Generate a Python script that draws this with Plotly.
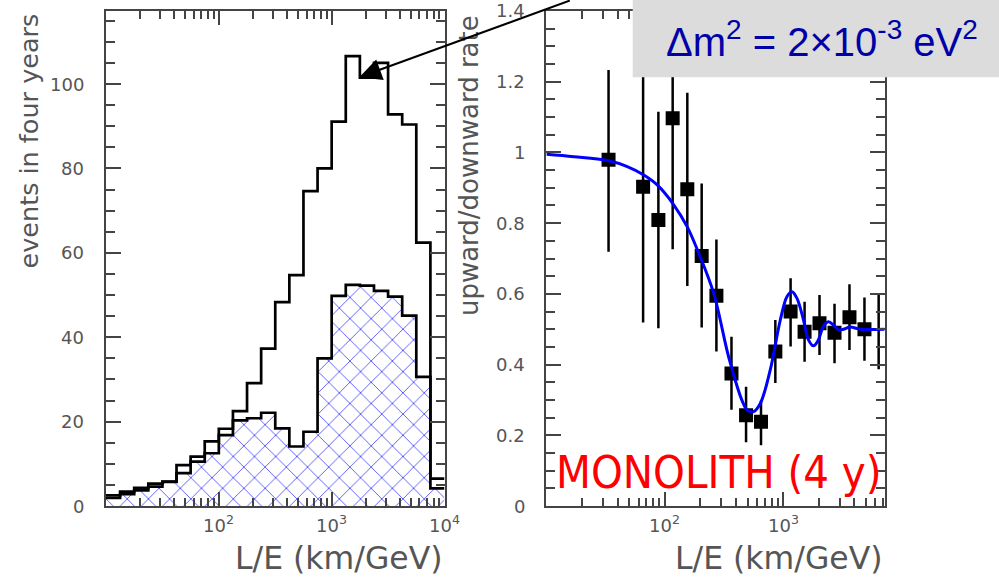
import numpy as np
import plotly.graph_objects as go

# ---------------- data ----------------
# left panel: L/E histograms, 8 bins per decade from 10 to 10^4 km/GeV
bin_edges = np.logspace(1, 4, 25)
all_events = [2.5, 3.4, 4.3, 5.3, 5.8, 9.7, 11.7, 15.3, 18.3, 22.5, 29.1, 37.3,
              48.3, 54.7, 74.6, 80.0, 91.1, 106.6, 101.5, 105.0, 92.8, 90.4, 62.4, 6.5]
osc_events = [1.9, 2.8, 3.7, 4.6, 5.7, 7.8, 10.5, 12.5, 16.8, 20.3, 20.8, 22.1,
              18.4, 14.1, 17.6, 35.0, 49.8, 52.4, 52.2, 51.0, 49.6, 45.1, 30.6, 4.2]

# right panel: up/down ratio with errors
ratio_x = [33.5, 65.6, 88.3, 116.6, 155, 205, 273, 366, 486, 650, 859, 1156,
           1517, 2028, 2716, 3633, 4863, 6410]
ratio_y = [0.979, 0.903, 0.809, 1.097, 0.896, 0.707, 0.595, 0.375, 0.257, 0.238,
           0.437, 0.55, 0.493, 0.517, 0.49, 0.534, 0.5, 0.49]
err_up = [0.254, 0.384, 0.306, 0.371, 0.273, 0.205, 0.159, 0.104, 0.08, 0.06,
          0.089, 0.094, 0.085, 0.08, 0.082, 0.093, 0.09, 0.11]
err_dn = [0.26, 0.384, 0.306, 0.371, 0.274, 0.202, 0.158, 0.103, 0.077, 0.066,
          0.089, 0.099, 0.085, 0.09, 0.086, 0.093, 0.089, 0.103]
marker_sizes = [14] * 17 + [0]

# expected ratio curve for dm^2 = 2e-3 eV^2
curve_x = [10, 17.1, 32.7, 48.2, 66.5, 86.3, 119, 154.5, 193.6, 258.8, 358, 495.5,
           562, 641, 778, 946, 1076, 1186, 1306, 1486, 1637, 1803, 1986, 2193,
           2415, 2661, 2931, 3228, 3681, 4467, 7200]
curve_y = [0.995, 0.988, 0.977, 0.96, 0.936, 0.908, 0.852, 0.79, 0.715, 0.602, 0.404, 0.272,
           0.267, 0.29, 0.385, 0.526, 0.592, 0.606, 0.588, 0.526, 0.47, 0.453, 0.47, 0.509,
           0.521, 0.512, 0.498, 0.5, 0.506, 0.5, 0.5]

left_yticks = [0, 20, 40, 60, 80, 100]
right_yticks = [0, 0.2, 0.4, 0.6, 0.8, 1, 1.2, 1.4]
left_xticks = [100, 1000, 10000]
left_xticktext = ["10<sup>2</sup>", "10<sup>3</sup>", "10<sup>4</sup>"]
right_xticks = [100, 1000]
right_xticktext = ["10<sup>2</sup>", "10<sup>3</sup>"]

# ---------------- figure ----------------
W, H = 999, 580
def px_x(p):
    return p / W
def px_y(p):
    return 1 - p / H

fig = go.Figure()

step_x = list(bin_edges)
fig.add_trace(go.Scatter(
    x=step_x, y=osc_events + [osc_events[-1]], mode="lines", line_shape="hv",
    line=dict(color="black", width=2.7), fill="tozeroy", fillcolor="rgba(0,0,0,0)",
    fillpattern=dict(shape="x", fgcolor="#0000ff", fgopacity=1, bgcolor="white",
                     size=15, solidity=0.08),
    xaxis="x", yaxis="y", hoverinfo="skip"))
fig.add_trace(go.Scatter(
    x=step_x, y=all_events + [all_events[-1]], mode="lines", line_shape="hv",
    line=dict(color="black", width=2.7), xaxis="x", yaxis="y", hoverinfo="skip"))

fig.add_trace(go.Scatter(
    x=ratio_x, y=ratio_y, mode="markers",
    marker=dict(symbol="square", size=marker_sizes, color="black", opacity=1,
                line=dict(width=0)),
    error_y=dict(type="data", array=err_up, arrayminus=err_dn, symmetric=False,
                 color="black", thickness=2.5, width=0),
    xaxis="x2", yaxis="y2"))
fig.add_trace(go.Scatter(
    x=curve_x, y=curve_y, mode="lines", line_shape="spline",
    line=dict(color="#0000ff", width=3, smoothing=1.0), xaxis="x2", yaxis="y2"))

tickfont = dict(family="DejaVu Sans", size=18, color="#555")
common = dict(showline=True, linecolor="#444", linewidth=1.5, mirror="allticks",
              ticks="inside", tickcolor="#444", tickwidth=1.5, showgrid=False,
              zeroline=False, showticklabels=False, automargin=False)

minor_log = [k * 10 ** d for d in range(1, 4) for k in range(2, 10)]

fig.update_layout(
    width=W, height=H, margin=dict(l=0, r=0, t=0, b=0, pad=0, autoexpand=False),
    paper_bgcolor="white", plot_bgcolor="white", showlegend=False,
    xaxis=dict(common, domain=[px_x(106), px_x(444.5)], type="log", range=[1, 4],
               tickmode="array", tickvals=left_xticks, ticklen=14, anchor="y",
               minor=dict(tickmode="array", tickvals=minor_log, ticks="inside",
                          ticklen=8, tickcolor="#444", tickwidth=1.5)),
    yaxis=dict(common, domain=[px_y(506), px_y(11)], range=[0, 117.3],
               tickmode="array", tickvals=left_yticks, ticklen=15, anchor="x",
               minor=dict(dtick=5, tick0=0, ticks="inside", ticklen=9,
                          tickcolor="#444", tickwidth=1.5)),
    xaxis2=dict(common, domain=[px_x(546.4), px_x(884.6)], type="log",
                range=[1, 3.857], tickmode="array", tickvals=right_xticks,
                ticklen=14, anchor="y2",
                minor=dict(tickmode="array", tickvals=minor_log, ticks="inside",
                           ticklen=8, tickcolor="#444", tickwidth=1.5)),
    yaxis2=dict(common, domain=[px_y(506), px_y(11)], range=[0, 1.4],
                tickmode="array", tickvals=right_yticks, ticklen=15, anchor="x2",
                minor=dict(dtick=0.05, tick0=0, ticks="inside", ticklen=9,
                           tickcolor="#444", tickwidth=1.5)),
)

# tick labels placed as annotations (fixed gap from the frame)
for v in left_yticks:
    fig.add_annotation(text=f"{v:g}", xref="paper", yref="y", x=px_x(86), y=v,
                       xanchor="right", yanchor="middle", showarrow=False, font=tickfont)
for v in right_yticks:
    fig.add_annotation(text=f"{v:g}", xref="paper", yref="y2", x=px_x(527), y=v,
                       xanchor="right", yanchor="middle", showarrow=False, font=tickfont)
for v, t in zip(left_xticks, left_xticktext):
    fig.add_annotation(text=t, xref="x", yref="paper", x=np.log10(v), y=px_y(510),
                       xanchor="center", yanchor="top", showarrow=False, font=tickfont)
for v, t in zip(right_xticks, right_xticktext):
    fig.add_annotation(text=t, xref="x2", yref="paper", x=np.log10(v), y=px_y(510),
                       xanchor="center", yanchor="top", showarrow=False, font=tickfont)

title_font = dict(family="DejaVu Sans", size=26, color="#555")
fig.add_annotation(text="events in four years", textangle=-90, xref="paper", yref="paper",
                   x=px_x(28), y=px_y(12), xanchor="center", yanchor="top",
                   showarrow=False, font=dict(title_font, size=25.5))
fig.add_annotation(text="upward/downward rate", textangle=-90, xref="paper", yref="paper",
                   x=px_x(468.6), y=px_y(13), xanchor="center", yanchor="top",
                   showarrow=False, font=title_font)
fig.add_annotation(text="L/E (km/GeV)", xref="paper", yref="paper",
                   x=px_x(445), y=px_y(558), xanchor="right", yanchor="middle",
                   showarrow=False, font=dict(title_font, size=31.5))
fig.add_annotation(text="L/E (km/GeV)", xref="paper", yref="paper",
                   x=px_x(885), y=px_y(558), xanchor="right", yanchor="middle",
                   showarrow=False, font=dict(title_font, size=31.5))

# grey box with dm^2
fig.add_shape(type="rect", xref="paper", yref="paper", x0=px_x(632.7), x1=1,
              y0=px_y(77.3), y1=1, fillcolor="#dcdcdc", line=dict(width=0),
              layer="above")
fig.add_annotation(text="\u0394m<sup>2</sup> = 2\u00d710<sup>-3</sup> eV<sup>2</sup>",
                   xref="paper", yref="paper", x=px_x(822), y=px_y(39),
                   xanchor="center", yanchor="middle", showarrow=False,
                   font=dict(family="Liberation Sans, Arial", size=40, color="#0000a8"))

fig.add_annotation(text="MONOLITH (4 y)", xref="paper", yref="paper",
                   x=px_x(554), y=px_y(472), xanchor="left", yanchor="middle",
                   showarrow=False,
                   font=dict(family="DejaVu Sans Condensed, Liberation Sans Narrow, Arial",
                             size=45, color="#ff0000"))

# arrow pointing to the peak of the histogram
fig.add_annotation(text="", x=np.log10(1758), y=101.6, xref="x", yref="y",
                   ax=212, ay=-87, showarrow=True, arrowhead=2, arrowsize=2.2,
                   arrowwidth=2, arrowcolor="black", standoff=0)

fig.write_html("out.html")
